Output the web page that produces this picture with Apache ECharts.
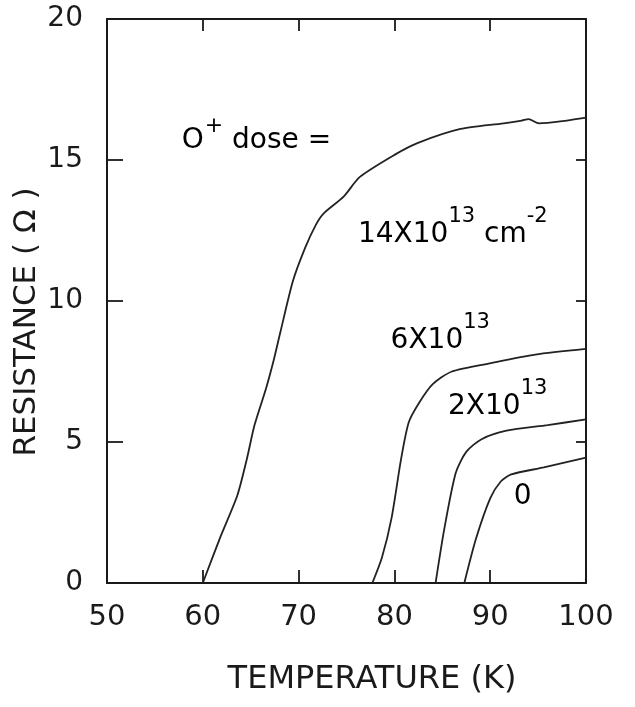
<!DOCTYPE html>
<html>
<head>
<meta charset="utf-8">
<title>Resistance vs temperature</title>
<script src="https://cdn.jsdelivr.net/npm/echarts@6/dist/echarts.min.js"></script>
<style>
  html, body { margin: 0; padding: 0; background: #ffffff; }
  #chart { width: 635px; height: 707px; }
</style>
</head>
<body>
<div id="chart"></div>
<script>
// Resistance (ohm) versus temperature (K) for four O+ implant doses.
const FONT = 'DejaVu Sans';
const INK = '#1a1a1a';

// x-axis: temperature ticks (K)
const tempTicks = [50, 60, 70, 80, 90, 100];
// y-axis: resistance ticks (ohm)
const resTicks = [0, 5, 10, 15, 20];

// dose 14x10^13 cm^-2
const temp14 = [60, 61.8, 63.6, 64.6, 65.4, 66.6, 67.4, 68.1, 69.4, 70.7, 71.8, 72.6, 74.7, 76.4, 80.1, 82.4, 86.9, 91.4, 93.3, 94.0, 95.1, 98.0, 100];
const res14  = [0,  1.6,  3.1,  4.4,  5.6,  6.9,  7.9,  8.9,  10.7, 11.9, 12.7, 13.1, 13.7, 14.4, 15.2, 15.6, 16.1, 16.3, 16.4, 16.45, 16.3, 16.4, 16.5];

// dose 6x10^13
const temp6 = [77.7, 78.7, 79.7, 80.7, 81.5, 82.6, 84.0, 86.0, 90.1, 94.7, 100];
const res6  = [0,    0.9,  2.3,  4.4,  5.7,  6.4,  7.05, 7.5,  7.8,  8.1,  8.3];

// dose 2x10^13
const temp2 = [84.3, 85.2, 86.4, 87.5, 89.1, 91.7, 96.0, 100];
const res2  = [0,    1.9,  3.9,  4.65, 5.1,  5.4,  5.6,  5.8];

// dose 0
const temp0 = [87.3, 88.5, 90.0, 91.1, 92.2, 95.6, 100];
const res0  = [0,    1.55, 3.0,  3.6,  3.85, 4.1,  4.45];

// curve labels: [temperature, resistance] anchor of each label
const labelDose = [57.8, 15.7];
const label14 = [76.2, 12.35];
const label6 = [79.6, 8.6];
const label2 = [85.6, 6.25];
const label0 = [93.4, 3.05];

const zip = (xs, ys) => xs.map((x, i) => [x, ys[i]]);

const chart = echarts.init(document.getElementById('chart'), null, { renderer: 'canvas' });

const lineSeries = (name, xs, ys) => ({
  name,
  type: 'line',
  xAxisIndex: 0,
  yAxisIndex: 0,
  data: zip(xs, ys),
  showSymbol: false,
  smooth: 0.25,
  lineStyle: { color: '#222', width: 1.8 },
  emphasis: { disabled: true },
  silent: true
});

const axisLine = { show: true, onZero: false, lineStyle: { color: INK, width: 2 } };

chart.setOption({
  animation: false,
  backgroundColor: '#ffffff',
  grid: { left: 107, right: 49, top: 19, bottom: 124, containLabel: false },
  xAxis: [
    {
      type: 'value', position: 'bottom',
      min: tempTicks[0], max: tempTicks[tempTicks.length - 1], interval: 10,
      axisLine,
      axisTick: { show: true, inside: true, length: 13, lineStyle: { color: INK, width: 1.8 } },
      axisLabel: { show: true, margin: 20, fontSize: 29, fontFamily: FONT, color: INK },
      splitLine: { show: false }
    },
    {
      type: 'value', position: 'top',
      min: tempTicks[0], max: tempTicks[tempTicks.length - 1], interval: 10,
      axisLine,
      axisTick: { show: true, inside: true, length: 12, lineStyle: { color: INK, width: 1.8 } },
      axisLabel: { show: false },
      splitLine: { show: false }
    }
  ],
  yAxis: [
    {
      type: 'value', position: 'left',
      min: resTicks[0], max: resTicks[resTicks.length - 1], interval: 5,
      axisLine,
      axisTick: { show: true, inside: true, length: 16, lineStyle: { color: INK, width: 1.8 } },
      axisLabel: { show: true, margin: 24, fontSize: 28, fontFamily: FONT, color: INK },
      splitLine: { show: false }
    },
    {
      type: 'value', position: 'right',
      min: resTicks[0], max: resTicks[resTicks.length - 1], interval: 5,
      axisLine,
      axisTick: { show: true, inside: true, length: 10, lineStyle: { color: INK, width: 1.8 } },
      axisLabel: { show: false },
      splitLine: { show: false }
    }
  ],
  series: [
    lineSeries('14x10^13', temp14, res14),
    lineSeries('6x10^13', temp6, res6),
    lineSeries('2x10^13', temp2, res2),
    lineSeries('0', temp0, res0)
  ]
});

// Text labels placed from data coordinates
const px = (pt) => chart.convertToPixel({ xAxisIndex: 0, yAxisIndex: 0 }, pt);

const richStyles = {
  m: { fontSize: 28, fontFamily: FONT, color: INK },
  s: { fontSize: 21, fontFamily: FONT, color: INK, padding: [0, 0, 36, 0] },
  p: { fontSize: 22, fontFamily: FONT, color: INK, padding: [0, 0, 28, 1] }
};

const richText = (pt, text, align) => {
  const [x, y] = px(pt);
  return {
    type: 'text', x, y, silent: true,
    style: { text, rich: richStyles, align: align || 'left', verticalAlign: 'middle' }
  };
};

chart.setOption({
  graphic: [
    richText(labelDose, '{m|O}{p|+}{m| dose =}'),
    richText(label14, '{m|14X10}{s|13}{m| cm}{s|-2}'),
    richText(label6, '{m|6X10}{s|13}'),
    richText(label2, '{m|2X10}{s|13}'),
    richText(label0, '{m|0}', 'center'),
    {
      type: 'text', x: 372, y: 680, silent: true,
      style: { text: 'TEMPERATURE (K)', fontSize: 32, fontFamily: FONT, fill: INK, align: 'center', verticalAlign: 'middle' }
    },
    {
      type: 'text', x: 27, y: 322, rotation: Math.PI / 2, silent: true,
      style: { text: 'RESISTANCE ( Ω )', fontSize: 31, fontFamily: FONT, fill: INK, align: 'center', verticalAlign: 'middle' }
    }
  ]
});
</script>
</body>
</html>
